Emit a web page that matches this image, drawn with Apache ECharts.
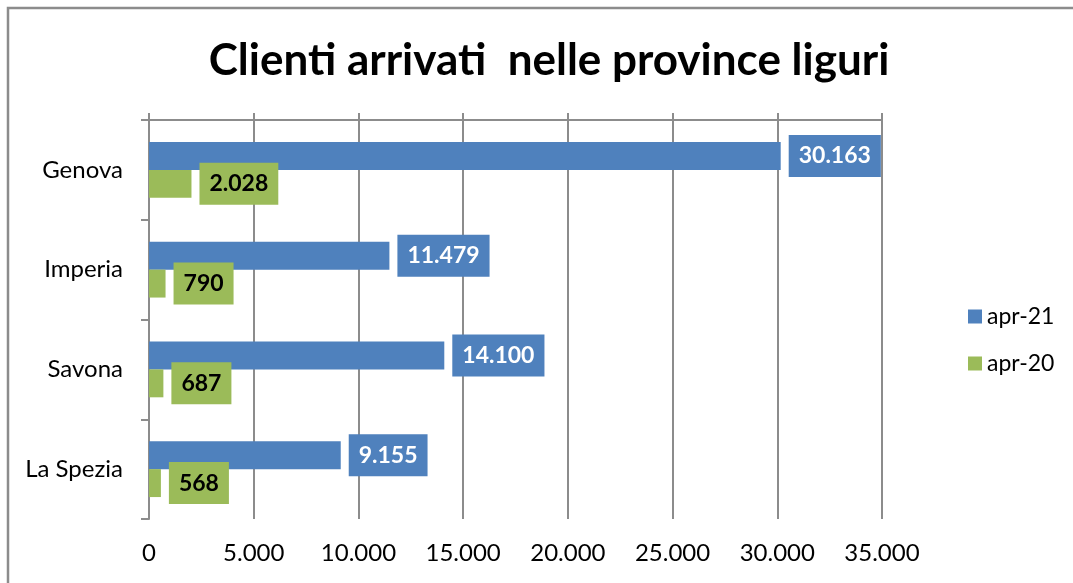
<!DOCTYPE html>
<html>
<head>
<meta charset="utf-8">
<script src="https://cdn.jsdelivr.net/npm/echarts@6/dist/echarts.min.js"></script>
<style>
  html, body { margin: 0; padding: 0; background: #fff; }
  #chart { width: 1073px; height: 583px; }
</style>
</head>
<body>
<div id="chart"></div>
<script>
// data
var categories = ['Genova', 'Imperia', 'Savona', 'La Spezia'];
var apr21 = [30163, 11479, 14100, 9155];
var apr20 = [2028, 790, 687, 568];
var seriesNames = ['apr-21', 'apr-20'];

var FONT = 'Lato';
var GRID = '#8c8c8c';

// 30163 -> "30.163"
function itNum(v) {
    return String(v).replace(/\B(?=(\d{3})+(?!\d))/g, '.');
}

var myChart = echarts.init(document.getElementById('chart'));

var option = {
    backgroundColor: '#fff',
    animation: false,
    title: {
        text: 'Clienti arrivati  nelle province liguri',
        left: 544,
        textAlign: 'center',
        top: 34,
        textStyle: { fontFamily: FONT, fontWeight: 'bold', fontSize: 44, color: '#000' }
    },
    graphic: [{
        // frame: only left and top edges are visible in the picture
        type: 'polyline',
        shape: { points: [[8, 600], [8, 8], [1080, 8]] },
        style: { fill: 'none', stroke: '#8c8c8c', lineWidth: 2.5 },
        silent: true
    }],
    legend: {
        orient: 'vertical',
        left: 963,
        top: 300,
        icon: 'rect',
        itemWidth: 14,
        itemHeight: 14,
        itemGap: 24,
        data: seriesNames,
        textStyle: { fontFamily: FONT, fontSize: 23, color: '#000' }
    },
    grid: { left: 149, right: 191, top: 120, bottom: 64 },
    xAxis: [{
        type: 'value',
        position: 'top',
        min: 0, max: 35000, interval: 5000,
        axisLine: { show: true, lineStyle: { color: GRID, width: 2 } },
        axisTick: { show: true, length: 7, lineStyle: { color: GRID, width: 2 } },
        axisLabel: { show: false },
        splitLine: { show: false }
    }, {
        type: 'value',
        position: 'bottom',
        min: 0, max: 35000, interval: 5000,
        axisLine: { show: false },
        axisTick: { show: false },
        axisLabel: {
            margin: 22,
            fontFamily: FONT, fontSize: 24, color: '#000',
            formatter: itNum
        },
        splitLine: { show: true, lineStyle: { color: GRID, width: 2 } }
    }],
    yAxis: {
        type: 'category',
        inverse: true,
        data: categories,
        axisLine: { show: true, lineStyle: { color: GRID, width: 2 } },
        axisTick: { show: true, length: 8, lineStyle: { color: GRID, width: 2 } },
        axisLabel: { margin: 26, fontFamily: FONT, fontSize: 24, color: '#000' }
    },
    series: [{
        name: seriesNames[0],
        type: 'bar',
        xAxisIndex: 1,
        data: apr21,
        barGap: '0%',
        barCategoryGap: '44%',
        itemStyle: { color: '#4F81BD' },
        label: {
            show: true,
            position: 'right',
            distance: 8,
            formatter: function (p) { return itNum(p.value); },
            backgroundColor: '#4F81BD',
            padding: [10, 10, 9, 10],
            fontFamily: FONT, fontWeight: 'bold', fontSize: 23, color: '#fff'
        }
    }, {
        name: seriesNames[1],
        type: 'bar',
        xAxisIndex: 1,
        data: apr20,
        barGap: '0%',
        barCategoryGap: '44%',
        itemStyle: { color: '#9BBB59' },
        label: {
            show: true,
            position: 'right',
            distance: 8,
            formatter: function (p) { return itNum(p.value); },
            backgroundColor: '#9BBB59',
            padding: [10, 10, 9, 10],
            fontFamily: FONT, fontWeight: 'bold', fontSize: 23, color: '#000'
        }
    }]
};

myChart.setOption(option);
</script>
</body>
</html>
